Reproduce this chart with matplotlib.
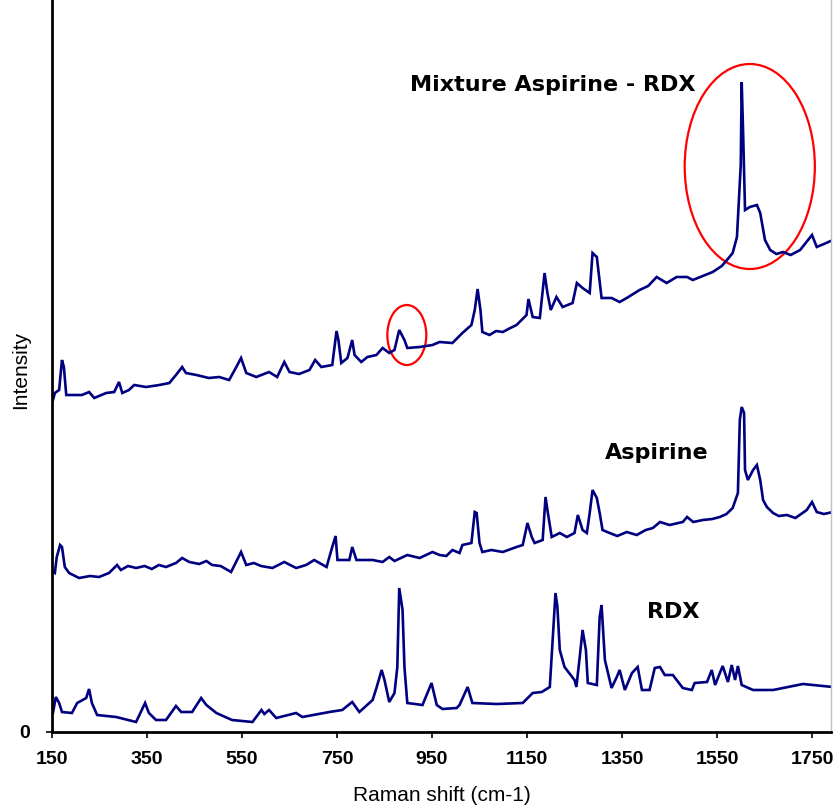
import matplotlib
matplotlib.use('Agg')
import matplotlib.pyplot as plt
from matplotlib.patches import Ellipse

# Raman shift (cm-1) and intensity (arbitrary units) for each spectrum
rdx_x = [150, 152, 158, 165, 171, 192, 203, 222, 228, 234, 245, 285, 327, 346, 354, 369, 390, 411, 422, 445,
         464, 475, 496, 529, 572, 591, 597, 607, 622, 664, 677, 734, 761, 782, 797, 825, 833, 844, 850, 860, 871,
         877, 881, 888, 892, 898, 930, 949, 960, 972, 1002, 1008, 1025, 1035, 1086, 1141, 1162, 1181, 1198,
         1204, 1210, 1214, 1219, 1229, 1250, 1254, 1261, 1267, 1274, 1278, 1297, 1303, 1307, 1314, 1328,
         1339, 1345, 1356, 1371, 1383, 1392, 1408, 1419, 1430, 1440, 1457, 1478, 1497, 1503, 1529, 1539,
         1546, 1556, 1562, 1573, 1581, 1588, 1594, 1602, 1626, 1668, 1731, 1794]
rdx_y = [19, 19, 35, 29, 20, 19, 29, 34, 43, 29, 17, 15, 10, 29, 19, 12, 12, 26, 20, 20,
         34, 27, 19, 12, 10, 22, 18, 22, 14, 19, 15, 20, 22, 30, 20, 32, 44, 62, 52, 30, 39,
         65, 144, 122, 65, 29, 27, 49, 27, 23, 24, 27, 45, 29, 28, 29, 39, 40, 45,
         92, 139, 125, 82, 65, 52, 45, 75, 102, 82, 49, 47, 115, 127, 72, 44,
         55, 62, 42, 59, 65, 42, 42, 64, 65, 57, 57, 44, 42, 49, 50, 62,
         47, 59, 66, 50, 67, 52, 66, 47, 42, 42, 48, 45]

asp_x = [152, 156, 160, 167, 171, 177, 186, 207, 230, 249, 270, 287, 295, 310, 327, 345, 360, 375, 390, 411,
         424, 439, 460, 475, 487, 505, 527, 548, 559, 575, 590, 614, 639, 664, 685, 702, 728, 740, 747, 751,
         776, 782, 791, 825, 846, 860, 871, 898, 924, 951, 966, 980, 993, 1008, 1014, 1033, 1040, 1044,
         1050, 1056, 1075, 1099, 1128, 1141, 1151, 1160, 1166, 1183, 1189, 1193, 1202, 1219, 1234, 1250,
         1257, 1267, 1276, 1282, 1288, 1297, 1303, 1309, 1324, 1340, 1360, 1381, 1400, 1415, 1430, 1450,
         1478, 1487, 1500, 1520, 1540, 1556, 1570, 1583, 1594, 1598, 1602, 1607, 1609, 1615, 1626, 1634,
         1641, 1647, 1655, 1668, 1680, 1697, 1715, 1739, 1750, 1760, 1775, 1794]
asp_y = [160, 159, 175, 187, 185, 165, 159, 154, 156, 155, 159, 167, 162, 166, 164, 166, 163, 167, 165, 169,
         174, 170, 168, 171, 167, 166, 160, 180, 167, 169, 166, 164, 170, 164, 167, 172, 165, 185, 196, 172,
         172, 185, 172, 172, 170, 175, 171, 177, 174, 180, 177, 176, 182, 179, 187, 189, 220, 219,
         189, 180, 182, 180, 185, 187, 209, 195, 189, 192, 235, 222, 195, 199, 195, 199,
         217, 202, 199, 219, 242, 234, 219, 202, 199, 196, 200, 197, 202, 204, 210, 207,
         210, 215, 210, 212, 213, 215, 218, 224, 239, 312, 325, 319, 262, 252, 262, 267,
         252, 232, 225, 219, 216, 217, 214, 222, 230, 220, 218, 220]

mix_x = [152, 156, 165, 171, 175, 180, 190, 213, 228, 239, 264, 281, 291, 298, 312, 323, 348, 376, 397, 411,
         424, 432, 454, 480, 502, 523, 538, 548, 559, 580, 607, 624, 639, 650, 670, 692, 704, 717, 740, 749, 753,
         759, 772, 782, 787, 801, 814, 833, 846, 860, 871, 881, 892, 898, 924, 951, 966, 993, 1014, 1033,
         1040, 1046, 1052, 1056, 1071, 1085, 1099, 1115, 1128, 1149, 1153, 1162, 1177, 1187, 1193, 1200, 1212,
         1225, 1246, 1255, 1267, 1282, 1288, 1297, 1307, 1328, 1345, 1360, 1387, 1405, 1423, 1444, 1465, 1487,
         1499, 1520, 1541, 1560, 1571, 1583, 1592, 1600, 1602, 1605, 1609, 1619, 1634, 1641, 1651, 1662,
         1675, 1689, 1705, 1725, 1750, 1760, 1775, 1794]
mix_y = [332, 339, 342, 372, 365, 337, 337, 337, 340, 334, 339, 340, 350, 339, 342, 347, 345, 347, 349, 357,
         365, 359, 357, 354, 355, 352, 365, 374, 359, 355, 360, 355, 370, 360, 358, 362, 372, 365, 367, 401, 392,
         369, 374, 392, 377, 370, 375, 377, 384, 379, 382, 402, 392, 384, 385, 387, 390, 389, 399, 407,
         422, 443, 422, 400, 397, 401, 400, 404, 407, 417, 433, 415, 414, 459, 439, 422, 435,
         425, 429, 449, 444, 439, 479, 475, 434, 434, 430, 434, 442, 446, 455, 449, 455, 455,
         452, 456, 460, 466, 472, 479, 495, 567, 650, 599, 522, 525, 527, 519, 492, 482,
         478, 480, 477, 482, 497, 485, 488, 492]

labels = ["Mixture Aspirine - RDX", "Aspirine", "RDX"]
label_x = [1204, 1424, 1458]
label_y = [641, 273, 114]

xticks = [150, 350, 550, 750, 950, 1150, 1350, 1550, 1750]

line_color = '#000080'

fig = plt.figure(figsize=(8.34, 8.06), dpi=100)
ax = fig.add_axes([52 / 834, 1 - 732 / 806, (831 - 52) / 834, 732 / 806])

for xs, ys in [(rdx_x, rdx_y), (asp_x, asp_y), (mix_x, mix_y)]:
    ax.plot(xs, ys, color=line_color, lw=1.9, solid_joinstyle='miter')

ax.add_patch(Ellipse((1619, 565.5), 274, 205, fill=False, edgecolor='#ff0000', lw=1.6))
ax.add_patch(Ellipse((897, 397), 82, 60, fill=False, edgecolor='#ff0000', lw=1.6))

for t, x, y in zip(labels, label_x, label_y):
    ax.text(x, y, t, ha='center', va='baseline', fontsize=16, fontweight='bold',
            family='DejaVu Sans', color='black')

ax.set_xlim(150, 1790)
ax.set_ylim(0, 732)
ax.set_xticks(xticks)
ax.set_xticklabels([str(v) for v in xticks])
ax.set_yticks([0])
ax.set_yticklabels(['0'])

for lab in ax.get_xticklabels() + ax.get_yticklabels():
    lab.set_family('Liberation Sans')
    lab.set_fontsize(14)
    lab.set_fontweight('bold')

ax.tick_params(axis='x', direction='out', length=4, width=1.2, pad=10)
ax.tick_params(axis='y', direction='out', length=4, width=1.2, pad=12)

ax.spines['top'].set_visible(False)
ax.spines['right'].set_color('#c0c0c0')
ax.spines['right'].set_linewidth(1)
ax.spines['left'].set_linewidth(2)
ax.spines['bottom'].set_linewidth(2)

ax.set_xlabel('Raman shift (cm-1)', family='Liberation Sans', fontsize=15)
ax.set_ylabel('Intensity', family='Liberation Sans', fontsize=15)
ax.xaxis.set_label_coords(0.5, -54 / 732)
ax.yaxis.set_label_coords(-22 / 779, 0.495)

fig.savefig('out.png', dpi=100)
